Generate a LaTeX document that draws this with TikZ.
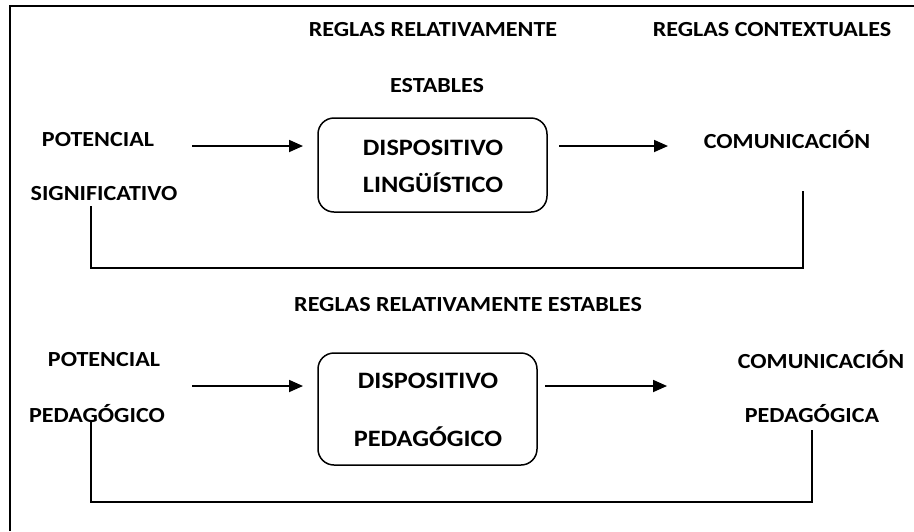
\documentclass[tikz,border=0pt]{standalone}
\usepackage{fontspec}
\setmainfont{Carlito}[FakeStretch=1.12]
\usetikzlibrary{arrows.meta}
\tikzset{
  lbl/.style={font=\bfseries\fontsize{21.5}{24}\selectfont, inner sep=0pt, anchor=center},
  boxtxt/.style={font=\bfseries\fontsize{23.5}{26}\selectfont, inner sep=0pt, anchor=center},
  dbox/.style={draw, line width=1.5pt, rounded corners=16pt, inner sep=0pt},
  arr/.style={line width=1.8pt, -{Triangle[length=14pt,width=12pt]}},
  fb/.style={line width=1.5pt},
  frame/.style={line width=1.5pt}
}
\begin{document}
\begin{tikzpicture}[x=1pt,y=-1pt]
\useasboundingbox (0,0) rectangle (914,531);
% frame (cropped)
\coordinate (fr1) at (10,531);
\coordinate (fr2) at (10,6);
\coordinate (fr3) at (914,6);
\draw[frame] (fr1) -- (fr2) -- (fr3);

% ---- upper diagram ----
\node[lbl] (rr1) at (433,30) {REGLAS RELATIVAMENTE};
\node[lbl] (est1) at (437,86) {ESTABLES};
\node[lbl] (rc1) at (772,30) {REGLAS CONTEXTUALES};
\node[lbl] (pot1) at (98,140) {POTENCIAL};
\node[lbl] (sig1) at (104,194) {SIGNIFICATIVO};
\node[dbox, minimum width=229pt, minimum height=94pt] (box1) at (432.5,165) {};
\node[boxtxt] (d1) at (433,148) {DISPOSITIVO};
\node[boxtxt] (l1) at (433,183) {LINGÜÍSTICO};
\node[lbl] (com1) at (787,140) {COMUNICACIÓN};

\coordinate (a1s) at (192,146);
\coordinate (a1e) at (303,146);
\coordinate (a2s) at (559,146);
\coordinate (a2e) at (668,146);
\draw[arr] (a1s) -- (a1e);
\draw[arr] (a2s) -- (a2e);

\coordinate (f1a) at (803,191);
\coordinate (f1b) at (803,268);
\coordinate (f1c) at (91,268);
\coordinate (f1d) at (91,206);
\draw[fb] (f1a) -- (f1b) -- (f1c) -- (f1d);

% ---- lower diagram ----
\node[lbl] (rr2) at (468,305) {REGLAS RELATIVAMENTE ESTABLES};
\node[lbl] (pot2) at (104,360) {POTENCIAL};
\node[lbl] (ped2) at (97,414) {PEDAGÓGICO};
\node[dbox, minimum width=219pt, minimum height=112pt] (box2) at (427.5,409) {};
\node[boxtxt] (d2) at (428,381) {DISPOSITIVO};
\node[boxtxt] (p2) at (428,437) {PEDAGÓGICO};
\node[lbl] (com2) at (821,360) {COMUNICACIÓN};
\node[lbl] (ped3) at (812,414) {PEDAGÓGICA};

\coordinate (a3s) at (192,386);
\coordinate (a3e) at (303,386);
\coordinate (a4s) at (545,386);
\coordinate (a4e) at (667,386);
\draw[arr] (a3s) -- (a3e);
\draw[arr] (a4s) -- (a4e);

\coordinate (f2a) at (812,430);
\coordinate (f2b) at (812,502);
\coordinate (f2c) at (91,502);
\coordinate (f2d) at (91,422);
\draw[fb] (f2a) -- (f2b) -- (f2c) -- (f2d);
\end{tikzpicture}
\end{document}
